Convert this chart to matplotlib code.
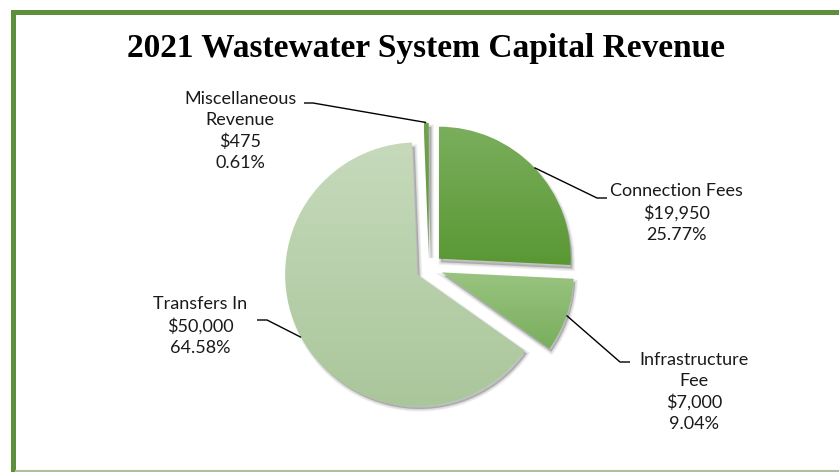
import numpy as np
import matplotlib.pyplot as plt
from matplotlib.patches import Wedge, Rectangle
from matplotlib.colors import to_rgb

# Revenue sources, in pie order (clockwise from 12 o'clock)
sources = ["Connection Fees", "Infrastructure\nFee", "Transfers In", "Miscellaneous\nRevenue"]
amounts = [19950, 7000, 50000, 475]

# Vertical gradient for each slice (top colour, bottom colour)
top_colors = ["#7aae5c", "#99c480", "#c6dabb", "#6fa24e"]
bottom_colors = ["#5a9834", "#79ae5d", "#aac69b", "#5f973d"]

# Label placement in pixels: text centre, elbow of leader line, end of leader line
label_xy = [(676, 259), (694, 80), (200, 146), (240, 341)]
elbow_xy = [(597, 274), (620, 110), (267, 152), (313, 369)]
end_xy = [(607, 274), (630, 110), (257, 152), (304, 369)]

W, H = 839, 472
center = (429, 204)
radius = 132
gap = 13.5

fig = plt.figure(figsize=(W / 100, H / 100), dpi=100)
ax = fig.add_axes([0, 0, 1, 1])

wedges, _ = ax.pie(
    amounts,
    explode=[gap] * len(amounts),
    startangle=90,
    counterclock=False,
    center=center,
    radius=radius,
    wedgeprops=dict(linewidth=0),
)

total = sum(amounts)
for i, w in enumerate(wedges):
    cx, cy = w.center
    # soft drop shadow, pushed down and to the right
    for k in range(5):
        sh = Wedge((cx + 2.5, cy - 3.5), w.r - 1, w.theta1, w.theta2,
                   facecolor="black", edgecolor="black",
                   linewidth=k * 1.0, alpha=0.045, zorder=1)
        ax.add_patch(sh)
    w.set_zorder(2)
    w.set_facecolor("none")

    # gradient fill clipped to the wedge
    verts = w.get_path().vertices
    x0, y0 = verts.min(axis=0)
    x1, y1 = verts.max(axis=0)
    t = np.linspace(0, 1, 256)[:, None, None]
    c0 = np.array(to_rgb(top_colors[i]))[None, None, :]
    c1 = np.array(to_rgb(bottom_colors[i]))[None, None, :]
    grad = c0 * (1 - t) + c1 * t
    im = ax.imshow(grad, extent=[x0, x1, y0, y1], origin="upper",
                   aspect="auto", interpolation="bilinear", zorder=3)
    im.set_clip_path(w)

    # leader line from the middle of the arc
    mid = np.deg2rad((w.theta1 + w.theta2) / 2)
    px = cx + w.r * np.cos(mid)
    py = cy + w.r * np.sin(mid)
    ex, ey = elbow_xy[i]
    fx, fy = end_xy[i]
    ax.plot([px, ex, fx], [py, ey, fy], color="black", linewidth=1.0,
            solid_capstyle="butt", zorder=4)

    text = f"{sources[i]}\n${amounts[i]:,}\n{amounts[i] / total * 100:.2f}%"
    ax.text(label_xy[i][0], label_xy[i][1], text, ha="center", va="center",
            fontsize=13, family="Lato", linespacing=1.38, color="#1a1a1a",
            zorder=5)

# chart frame
ax.add_patch(Rectangle((11, -2), 5, H - 8, facecolor="#5e8f3c", edgecolor="none", zorder=6))
ax.add_patch(Rectangle((11, H - 15), W, 5, facecolor="#5e8f3c", edgecolor="none", zorder=6))
ax.plot([16, W], [1, 1], color="#a9c39a", linewidth=1.5, zorder=6)

ax.text(426, H - 48, "2021 Wastewater System Capital Revenue", ha="center", va="center",
        fontsize=24, fontweight="bold", family="Liberation Serif", color="black")

ax.set_xlim(0, W)
ax.set_ylim(0, H)
ax.set_aspect("equal")
ax.axis("off")

fig.savefig("out.png", dpi=100)
